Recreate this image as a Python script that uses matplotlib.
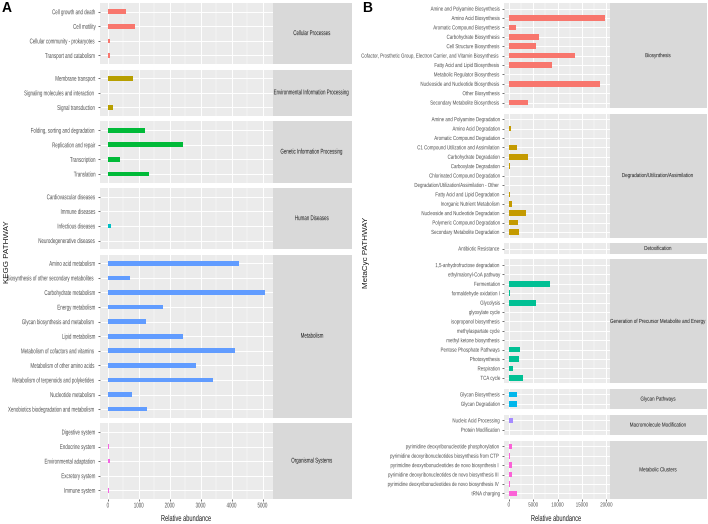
import matplotlib
matplotlib.use("Agg")
import matplotlib.pyplot as plt
from matplotlib.patheffects import AbstractPathEffect
from matplotlib.transforms import Affine2D
import numpy as np

plt.rcParams["font.family"] = ["Liberation Sans", "DejaVu Sans"]

# ---- KEGG data (panel A) ----
kegg_groups = ["Cellular Processes", "Environmental Information Processing",
               "Genetic Information Processing", "Human Diseases",
               "Metabolism", "Organismal Systems"]
kegg_labels = [
    ["Cell growth and death", "Cell motility", "Cellular community - prokaryotes",
     "Transport and catabolism"],
    ["Membrane transport", "Signaling molecules and interaction", "Signal transduction"],
    ["Folding, sorting and degradation", "Replication and repair", "Transcription",
     "Translation"],
    ["Cardiovascular diseases", "Immune diseases", "Infectious diseases",
     "Neurodegenerative diseases"],
    ["Amino acid metabolism", "Biosynthesis of other secondary metabolites",
     "Carbohydrate metabolism", "Energy metabolism", "Glycan biosynthesis and metabolism",
     "Lipid metabolism", "Metabolism of cofactors and vitamins",
     "Metabolism of other amino acids", "Metabolism of terpenoids and polyketides",
     "Nucleotide metabolism", "Xenobiotics biodegradation and metabolism"],
    ["Digestive system", "Endocrine system", "Environmental adaptation",
     "Excretory system", "Immune system"],
]
kegg_values = [
    [580, 865, 60, 60],
    [810, 0, 150],
    [1207, 2414, 406, 1325],
    [0, 0, 95, 0],
    [4242, 716, 5085, 1784, 1218, 2425, 4103, 2842, 3387, 791, 1250],
    [8, 40, 85, 0, 25],
]
kegg_colors = ["#F8766D", "#B79F00", "#00BA38", "#00BFC4", "#619CFF", "#F564E3"]

# ---- MetaCyc data (panel B) ----
meta_groups = ["Biosynthesis", "Degradation/Utilization/Assimilation", "Detoxification",
               "Generation of Precursor Metabolite and Energy", "Glycan Pathways",
               "Macromolecule Modification", "Metabolic Clusters"]
meta_labels = [
    ["Amine and Polyamine Biosynthesis", "Amino Acid Biosynthesis",
     "Aromatic Compound Biosynthesis", "Carbohydrate Biosynthesis",
     "Cell Structure Biosynthesis",
     "Cofactor, Prosthetic Group, Electron Carrier, and Vitamin Biosynthesis",
     "Fatty Acid and Lipid Biosynthesis", "Metabolic Regulator Biosynthesis",
     "Nucleoside and Nucleotide Biosynthesis", "Other Biosynthesis",
     "Secondary Metabolite Biosynthesis"],
    ["Amine and Polyamine Degradation", "Amino Acid Degradation",
     "Aromatic Compound Degradation", "C1 Compound Utilization and Assimilation",
     "Carbohydrate Degradation", "Carboxylate Degradation",
     "Chlorinated Compound Degradation", "Degradation/Utilization/Assimilation - Other",
     "Fatty Acid and Lipid Degradation", "Inorganic Nutrient Metabolism",
     "Nucleoside and Nucleotide Degradation", "Polymeric Compound Degradation",
     "Secondary Metabolite Degradation"],
    ["Antibiotic Resistance"],
    ["1,5-anhydrofructose degradation", "ethylmalonyl-CoA pathway", "Fermentation",
     "formaldehyde oxidation I", "Glycolysis", "glyoxylate cycle",
     "isopropanol biosynthesis", "methylaspartate cycle", "methyl ketone biosynthesis",
     "Pentose Phosphate Pathways", "Photosynthesis", "Respiration", "TCA cycle"],
    ["Glycan Biosynthesis", "Glycan Degradation"],
    ["Nucleic Acid Processing", "Protein Modification"],
    ["pyrimidine deoxyribonucleotide phosphorylation",
     "pyrimidine deoxyribonucleotides biosynthesis from CTP",
     "pyrimidine deoxyribonucleotides de novo biosynthesis I",
     "pyrimidine deoxyribonucleotides de novo biosynthesis III",
     "pyrimidine deoxyribonucleotides de novo biosynthesis IV",
     "tRNA charging"],
]
meta_values = [
    [20, 19650, 1565, 6240, 5630, 13490, 8945, 0, 18700, 120, 3940],
    [60, 480, 80, 1630, 3860, 300, 0, 30, 270, 750, 3460, 1830, 2110],
    [0],
    [0, 0, 8540, 270, 5560, 50, 120, 0, 0, 2380, 2110, 820, 2990],
    [1700, 1630],
    [960, 0],
    [750, 270, 750, 680, 200, 1770],
]
meta_colors = ["#F8766D", "#C49A00", "#53B400", "#00C094", "#00B6EB", "#A58AFF", "#FB61D7"]


class Squeeze(AbstractPathEffect):
    """Narrow the glyphs horizontally (the original uses a condensed font)."""

    def __init__(self, sx, anchor="right"):
        super().__init__()
        self.sx = sx
        self.anchor = anchor

    def draw_path(self, renderer, gc, tpath, affine, rgbFace=None):
        v = tpath.vertices
        if len(v):
            lo, hi = v[:, 0].min(), v[:, 0].max()
            a = {"right": hi, "left": lo, "center": 0.5 * (lo + hi)}[self.anchor]
            affine = Affine2D().translate(-a, 0).scale(self.sx, 1).translate(a, 0) + affine
        renderer.draw_path(gc, tpath, affine, rgbFace)


W, H = 708, 524
fig = plt.figure(figsize=(W / 100, H / 100), dpi=100)
TXT = "#4D4D4D"


def draw_panel(groups, labels, values, colors, x0, x1, xs1, top, bottom, gap,
               barw, major, minor, lab_fs, lab_sq, strip_fs, strip_sq):
    xmax = max(max(v) for v in values)
    lo, hi = -0.05 * xmax, 1.05 * xmax
    units = [len(l) + 0.2 for l in labels]
    avail = (bottom - top) - gap * (len(groups) - 1)
    upx = avail / sum(units)
    y = top
    for i, g in enumerate(groups):
        h = units[i] * upx
        n = len(labels[i])
        ax = fig.add_axes([x0 / W, 1 - (y + h) / H, (x1 - x0) / W, h / H])
        ax.set_facecolor("#EBEBEB")
        pos = np.arange(n)
        ax.barh(pos, values[i], height=barw, color=colors[i], zorder=3)
        ax.set_ylim(n - 1 + 0.6, -0.6)
        ax.set_xlim(lo, hi)
        ax.set_yticks(pos)
        ax.set_yticklabels(labels[i], fontsize=lab_fs, color=TXT)
        ax.set_xticks(major)
        ax.set_xticks(minor, minor=True)
        ax.grid(True, which="major", color="white", lw=0.7, zorder=0)
        ax.grid(True, which="minor", axis="x", color="white", lw=0.35, zorder=0)
        ax.set_axisbelow(True)
        for s in ax.spines.values():
            s.set_visible(False)
        ax.tick_params(axis="y", length=1.5, width=0.5, color="#333333", pad=1)
        ax.tick_params(axis="x", which="minor", length=0)
        for t in ax.get_yticklabels():
            t.set_path_effects([Squeeze(lab_sq, "right")])
        if i == len(groups) - 1:
            ax.set_xticklabels([str(m) for m in major], fontsize=lab_fs, color=TXT)
            ax.tick_params(axis="x", length=1.5, width=0.5, color="#333333", pad=1)
            for t in ax.get_xticklabels():
                t.set_path_effects([Squeeze(lab_sq, "center")])
        else:
            ax.tick_params(axis="x", length=0, labelbottom=False)
        st = fig.add_axes([x1 / W, 1 - (y + h) / H, (xs1 - x1) / W, h / H])
        st.set_facecolor("#D9D9D9")
        st.set_xticks([])
        st.set_yticks([])
        for s in st.spines.values():
            s.set_visible(False)
        st.text(0.5, 0.5, g, ha="center", va="center", fontsize=strip_fs,
                color="#1A1A1A", transform=st.transAxes,
                path_effects=[Squeeze(strip_sq, "center")])
        y += h + gap


draw_panel(kegg_groups, kegg_labels, kegg_values, kegg_colors,
           100, 273, 352, 3, 499, 5.3, 0.32,
           [0, 1000, 2000, 3000, 4000, 5000], [500, 1500, 2500, 3500, 4500],
           5.0, 0.64, 5.0, 0.64)
draw_panel(meta_groups, meta_labels, meta_values, meta_colors,
           504, 609.5, 707, 3, 499, 5.3, 0.6,
           [0, 5000, 10000, 15000, 20000], [2500, 7500, 12500, 17500],
           4.2, 0.76, 4.2, 0.78)

for xc in (186.5, 556.5):
    fig.text(xc / W, 1 - 518.5 / H, "Relative abundance", ha="center", va="center",
             fontsize=6.2, color="#1A1A1A", path_effects=[Squeeze(0.66, "center")])
fig.text(8 / W, 1 - 252 / H, "KEGG PATHWAY", rotation=90, ha="center", va="center",
         fontsize=5.8, color="#1A1A1A")
fig.text(367 / W, 1 - 252 / H, "MetaCyc PATHWAY", rotation=90, ha="center", va="center",
         fontsize=5.8, color="#1A1A1A")
fig.text(2 / W, 1 - 8 / H, "A", ha="left", va="center", fontsize=10, fontweight="bold")
fig.text(362 / W, 1 - 8 / H, "B", ha="left", va="center", fontsize=10, fontweight="bold")

fig.savefig("out.png", dpi=100)
